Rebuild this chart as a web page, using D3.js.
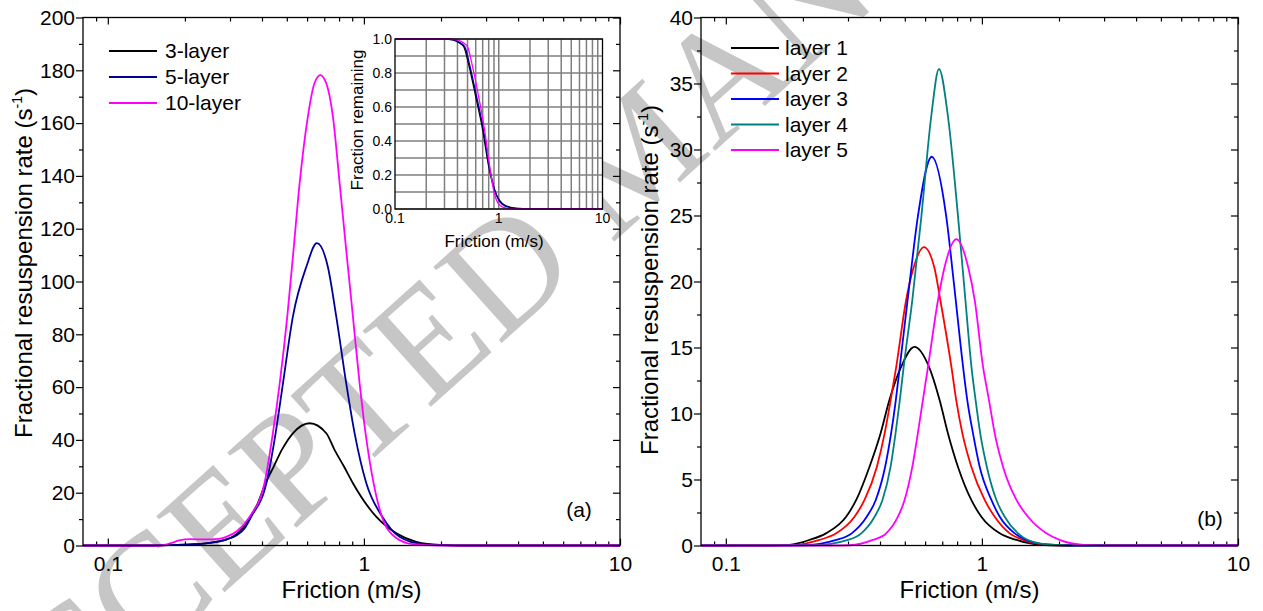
<!DOCTYPE html>
<html>
<head>
<meta charset="utf-8">
<script src="https://cdn.jsdelivr.net/npm/d3@7"></script>
<style>
  body { margin: 0; background: #fff; }
</style>
</head>
<body>
<svg id="chart" width="1263" height="611"></svg>
<script>
// ---- data ----
const xMajor = [0.1, 1, 10];
const xMinor = [0.09, 0.2, 0.3, 0.4, 0.5, 0.6, 0.7, 0.8, 0.9, 2, 3, 4, 5, 6, 7, 8, 9];

// (a) 3/5/10-layer resuspension rate
const layers = ['3-layer', '5-layer', '10-layer'];
const l3x = [0.08, 0.15, 0.2, 0.25, 0.29, 0.315, 0.336, 0.36, 0.385, 0.413, 0.445, 0.478, 0.528, 0.614, 0.713, 0.768, 0.835, 0.906, 1.117, 1.339, 1.602, 2.0, 2.5, 10];
const l3y = [0, 0, 0.3, 1.0, 2.2, 4.0, 6.5, 10.9, 16.0, 23.6, 30.0, 36.2, 42.5, 46.3, 42.5, 36.2, 30.0, 23.6, 10.9, 4.6, 1.4, 0.2, 0, 0];
const l5x = [0.08, 0.15, 0.2, 0.25, 0.29, 0.32, 0.342, 0.363, 0.416, 0.452, 0.483, 0.528, 0.596, 0.655, 0.723, 0.78, 0.853, 0.92, 1.022, 1.18, 1.377, 1.7, 2.1, 2.6, 10];
const l5y = [0, 0, 0.3, 1.0, 2.3, 4.0, 6.5, 10.9, 23.6, 42.5, 61.4, 86.7, 105.6, 114.5, 105.6, 86.7, 61.4, 42.5, 23.6, 10.9, 3.3, 0.5, 0.1, 0, 0];
const l10x = [0.08, 0.16, 0.175, 0.19, 0.21, 0.24, 0.27, 0.29, 0.32, 0.358, 0.409, 0.441, 0.469, 0.502, 0.531, 0.561, 0.604, 0.641, 0.676, 0.713, 0.757, 0.804, 0.853, 0.906, 0.962, 1.015, 1.091, 1.17, 1.33, 1.55, 2.0, 10];
const l10y = [0, 0, 0.8, 1.9, 2.4, 2.3, 2.5, 3.3, 5.5, 10.9, 23.6, 42.5, 61.4, 86.7, 111.9, 137.2, 162.4, 175.1, 178.2, 175.1, 162.4, 137.2, 111.9, 86.7, 61.4, 42.5, 23.6, 11.5, 3.0, 0.5, 0, 0];

// inset: fraction remaining
const f3x = [0.1, 0.3, 0.36, 0.41, 0.46, 0.51, 0.6, 0.7, 0.79, 0.91, 1.08, 1.3, 1.6, 2.0, 10];
const f3y = [1, 1, 0.995, 0.98, 0.955, 0.857, 0.661, 0.465, 0.269, 0.112, 0.033, 0.01, 0.003, 0, 0];
const f5x = [0.1, 0.31, 0.37, 0.42, 0.47, 0.52, 0.612, 0.712, 0.8, 0.915, 1.07, 1.3, 1.6, 2.0, 10];
const f5y = [1, 1, 0.995, 0.98, 0.955, 0.857, 0.661, 0.465, 0.269, 0.112, 0.03, 0.007, 0.002, 0, 0];
const f10x = [0.1, 0.33, 0.4, 0.45, 0.5, 0.55, 0.64, 0.73, 0.81, 0.9, 1.03, 1.2, 1.5, 10];
const f10y = [1, 1, 0.995, 0.98, 0.955, 0.857, 0.661, 0.465, 0.269, 0.1, 0.02, 0.003, 0, 0];

// (b) layer 1..5 of the 5-layer case
const layerNames = ['layer 1', 'layer 2', 'layer 3', 'layer 4', 'layer 5'];
const r1x = [0.08, 0.15, 0.177, 0.212, 0.246, 0.295, 0.323, 0.364, 0.402, 0.435, 0.484, 0.545, 0.621, 0.684, 0.737, 0.806, 0.909, 0.995, 1.174, 1.364, 1.68, 2.0, 10];
const r1y = [0, 0, 0.05, 0.42, 0.92, 2.18, 3.45, 5.97, 8.49, 11.0, 13.55, 15.05, 13.55, 11.0, 8.49, 5.97, 3.45, 2.18, 0.92, 0.42, 0.05, 0, 0];
const r2x = [0.08, 0.18, 0.232, 0.27, 0.318, 0.348, 0.389, 0.417, 0.44, 0.463, 0.506, 0.54, 0.594, 0.653, 0.688, 0.76, 0.794, 0.839, 0.909, 1.025, 1.122, 1.284, 1.446, 1.8, 2.2, 10];
const r2y = [0, 0.02, 0.42, 0.92, 2.18, 3.45, 5.97, 8.49, 11.0, 13.55, 18.6, 21.0, 22.6, 21.0, 18.6, 13.55, 11.0, 8.49, 5.97, 3.45, 2.18, 0.92, 0.42, 0.05, 0, 0];
const r3x = [0.08, 0.2, 0.27, 0.31, 0.355, 0.385, 0.419, 0.442, 0.461, 0.478, 0.522, 0.562, 0.637, 0.726, 0.777, 0.844, 0.877, 0.923, 0.98, 1.089, 1.174, 1.343, 1.49, 1.8, 2.2, 10];
const r3y = [0, 0.02, 0.42, 0.92, 2.18, 3.45, 5.97, 8.49, 11.0, 13.55, 19.9, 24.9, 29.45, 24.9, 19.9, 13.55, 11.0, 8.49, 5.97, 3.45, 2.18, 0.92, 0.42, 0.08, 0, 0];
const r4x = [0.08, 0.22, 0.3, 0.338, 0.381, 0.409, 0.44, 0.46, 0.478, 0.495, 0.535, 0.58, 0.634, 0.68, 0.737, 0.807, 0.862, 0.91, 0.945, 0.985, 1.045, 1.139, 1.227, 1.384, 1.514, 1.85, 2.3, 10];
const r4y = [0, 0.01, 0.42, 0.92, 2.18, 3.45, 5.97, 8.49, 11.0, 13.55, 18.6, 24.9, 32.5, 36.1, 32.5, 24.9, 18.6, 13.55, 11.0, 8.49, 5.97, 3.45, 2.18, 0.92, 0.42, 0.06, 0, 0];
const r5x = [0.08, 0.25, 0.305, 0.375, 0.423, 0.47, 0.499, 0.535, 0.562, 0.588, 0.616, 0.674, 0.713, 0.795, 0.886, 0.937, 1.01, 1.066, 1.122, 1.209, 1.364, 1.514, 1.786, 2.01, 2.5, 3.2, 10];
const r5y = [0, 0, 0.02, 0.42, 0.92, 2.18, 3.45, 5.97, 8.49, 11.0, 13.55, 18.6, 21.0, 23.2, 21.0, 18.6, 13.55, 11.0, 8.49, 5.97, 3.45, 2.18, 0.92, 0.42, 0.05, 0, 0];

const yTicksA = d3.range(0, 201, 20), yMinorA = d3.range(10, 200, 20);
const yTicksB = d3.range(0, 41, 5), yMinorB = d3.range(2.5, 40, 5);
const yTicksIn = [0, 0.2, 0.4, 0.6, 0.8, 1.0];
const yGridIn = d3.range(0, 1.01, 0.1);

// ---- drawing ----
const svg = d3.select('#chart');
const FONT = '"Liberation Sans", Arial, sans-serif';
svg.style('font-family', FONT);

// watermark, behind everything
svg.append('text')
  .attr('transform', 'translate(-17,810) rotate(-42)')
  .style('font-family', '"Liberation Serif", "Times New Roman", serif')
  .attr('font-size', 156)
  .attr('fill', '#c6c6c6')
  .text('ACCEPTED MANUSCRIPT');

function line(x, y) {
  return d3.line().x(d => x(d[0])).y(d => y(d[1])).curve(d3.curveMonotoneX);
}

function styleAxis(g, size) {
  g.select('.domain').remove();
  g.attr('font-family', null);
  g.selectAll('.tick line').attr('stroke', '#000').attr('stroke-width', 1.2);
  g.selectAll('.tick text').attr('font-size', size).attr('fill', '#000');
}

function panel(opt) {
  const x = d3.scaleLog().domain([0.08, 10]).range([opt.left, opt.right]);
  const y = d3.scaleLinear().domain([0, opt.yMax]).range([545.5, 17.5]);
  const g = svg.append('g');
  const y0 = y(0), y1 = y(opt.yMax);

  // bottom (inward ticks, labels)
  g.append('g').attr('transform', `translate(0,${y0})`)
    .call(d3.axisBottom(x).tickValues(xMajor).tickSize(-7).tickPadding(11).tickFormat(d => String(d)))
    .call(a => styleAxis(a, 21));
  g.append('g').attr('transform', `translate(0,${y0})`)
    .call(d3.axisBottom(x).tickValues(xMinor).tickSize(-4).tickFormat(''))
    .call(a => styleAxis(a, 21));
  // top (inward)
  g.append('g').attr('transform', `translate(0,${y1})`)
    .call(d3.axisTop(x).tickValues(xMajor).tickSize(-7).tickFormat(''))
    .call(a => styleAxis(a, 21));
  g.append('g').attr('transform', `translate(0,${y1})`)
    .call(d3.axisTop(x).tickValues(xMinor).tickSize(-4).tickFormat(''))
    .call(a => styleAxis(a, 21));
  // left (outward ticks, labels)
  g.append('g').attr('transform', `translate(${opt.left},0)`)
    .call(d3.axisLeft(y).tickValues(opt.yTicks).tickSize(7).tickPadding(1).tickFormat(d => String(d)))
    .call(a => styleAxis(a, 21));
  g.append('g').attr('transform', `translate(${opt.left},0)`)
    .call(d3.axisLeft(y).tickValues(opt.yMinor).tickSize(4).tickFormat(''))
    .call(a => styleAxis(a, 21));
  // right (inward)
  g.append('g').attr('transform', `translate(${opt.right},0)`)
    .call(d3.axisRight(y).tickValues(opt.yTicks).tickSize(-7).tickFormat(''))
    .call(a => styleAxis(a, 21));
  g.append('g').attr('transform', `translate(${opt.right},0)`)
    .call(d3.axisRight(y).tickValues(opt.yMinor).tickSize(-4).tickFormat(''))
    .call(a => styleAxis(a, 21));

  // curves
  opt.series.forEach(s => {
    g.append('path')
      .datum(d3.zip(s.x, s.y))
      .attr('fill', 'none')
      .attr('stroke', s.color)
      .attr('stroke-width', 1.8)
      .attr('d', line(x, y));
  });

  // frame
  g.append('rect')
    .attr('x', opt.left).attr('y', y1)
    .attr('width', opt.right - opt.left).attr('height', y0 - y1)
    .attr('fill', 'none').attr('stroke', '#000').attr('stroke-width', 1.3);

  // axis titles
  g.append('text')
    .attr('x', (opt.left + opt.right) / 2).attr('y', 598)
    .attr('text-anchor', 'middle').attr('font-size', 24)
    .text('Friction (m/s)');
  const yt = g.append('text')
    .attr('transform', `translate(${opt.titleX},${opt.titleY}) rotate(-90)`)
    .attr('text-anchor', 'middle').attr('font-size', 24);
  yt.append('tspan').text('Fractional resuspension rate (s');
  yt.append('tspan').attr('font-size', 14).attr('dy', -10).text('-1');
  yt.append('tspan').attr('dy', 10).text(')');

  // legend
  opt.series.forEach((s, i) => {
    const ly = opt.legY + i * opt.legStep;
    g.append('line')
      .attr('x1', opt.legX).attr('x2', opt.legX + 48)
      .attr('y1', ly).attr('y2', ly)
      .attr('stroke', s.color).attr('stroke-width', 1.8);
    g.append('text')
      .attr('x', opt.legX + 48 + opt.legGap).attr('y', ly).attr('dy', '0.35em')
      .attr('font-size', 21).text(s.name);
  });

  g.append('text')
    .attr('x', opt.tagX).attr('y', opt.tagY).attr('dy', '0.35em')
    .attr('text-anchor', 'middle').attr('font-size', 21).text(opt.tag);
  return g;
}

panel({
  left: 83, right: 620, yMax: 200, yTicks: yTicksA, yMinor: yMinorA,
  titleX: 32, titleY: 263,
  legX: 109, legY: 51, legStep: 26, legGap: 8,
  tag: '(a)', tagX: 579, tagY: 510,
  series: [
    { name: layers[0], x: l3x, y: l3y, color: '#000000' },
    { name: layers[1], x: l5x, y: l5y, color: '#000099' },
    { name: layers[2], x: l10x, y: l10y, color: '#ff00ff' }
  ]
});

panel({
  left: 701, right: 1238, yMax: 40, yTicks: yTicksB, yMinor: yMinorB,
  titleX: 658, titleY: 280,
  legX: 731, legY: 48, legStep: 25.5, legGap: 6,
  tag: '(b)', tagX: 1210, tagY: 519,
  series: [
    { name: layerNames[0], x: r1x, y: r1y, color: '#000000' },
    { name: layerNames[1], x: r2x, y: r2y, color: '#ff0000' },
    { name: layerNames[2], x: r3x, y: r3y, color: '#0000ff' },
    { name: layerNames[3], x: r4x, y: r4y, color: '#008080' },
    { name: layerNames[4], x: r5x, y: r5y, color: '#ff00ff' }
  ]
});

// ---- inset of panel (a) ----
const ix = d3.scaleLog().domain([0.1, 10]).range([395, 602.5]);
const iy = d3.scaleLinear().domain([0, 1]).range([209, 39]);
const inset = svg.append('g');
inset.append('rect')
  .attr('x', 395).attr('y', 39).attr('width', 207.5).attr('height', 170)
  .attr('fill', '#fff');
inset.selectAll('.vg').data(xMinor.filter(d => d > 0.1).concat([1]))
  .join('line')
  .attr('x1', d => ix(d)).attr('x2', d => ix(d))
  .attr('y1', iy(0)).attr('y2', iy(1))
  .attr('stroke', '#7f7f7f').attr('stroke-width', 1.5);
inset.selectAll('.hg').data(yGridIn)
  .join('line')
  .attr('x1', ix(0.1)).attr('x2', ix(10))
  .attr('y1', d => iy(d)).attr('y2', d => iy(d))
  .attr('stroke', '#7f7f7f').attr('stroke-width', 1.5);
[[f3x, f3y, '#000000'], [f5x, f5y, '#000099'], [f10x, f10y, '#ff00ff']].forEach(s => {
  inset.append('path')
    .datum(d3.zip(s[0], s[1]))
    .attr('fill', 'none').attr('stroke', s[2]).attr('stroke-width', 1.3)
    .attr('d', line(ix, iy));
});
inset.append('rect')
  .attr('x', 395).attr('y', 39).attr('width', 207.5).attr('height', 170)
  .attr('fill', 'none').attr('stroke', '#000').attr('stroke-width', 1.3);
inset.selectAll('.yl').data(yTicksIn)
  .join('text')
  .attr('x', 392).attr('y', d => iy(d)).attr('dy', '0.35em')
  .attr('text-anchor', 'end').attr('font-size', 14)
  .text(d => d3.format('.1f')(d));
inset.selectAll('.xl').data(xMajor)
  .join('text')
  .attr('x', d => ix(d)).attr('y', 223)
  .attr('text-anchor', 'middle').attr('font-size', 14)
  .text(d => String(d));
inset.append('text')
  .attr('x', 494).attr('y', 247)
  .attr('text-anchor', 'middle').attr('font-size', 17)
  .text('Friction (m/s)');
inset.append('text')
  .attr('transform', 'translate(363,120) rotate(-90)')
  .attr('text-anchor', 'middle').attr('font-size', 17)
  .text('Fraction remaining');
</script>
</body>
</html>
